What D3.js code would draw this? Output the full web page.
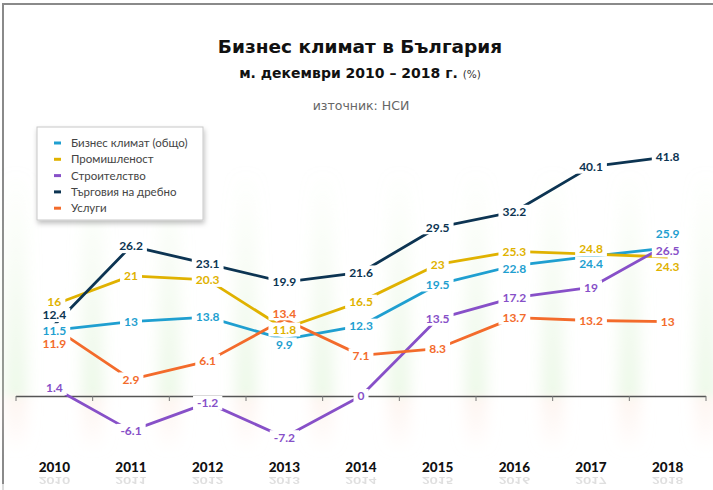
<!DOCTYPE html>
<html><head><meta charset="utf-8">
<script src="https://cdn.jsdelivr.net/npm/d3@7"></script>
<style>
html,body{margin:0;padding:0;background:#fff;}
svg{display:block;}
</style></head>
<body>
<svg id="chart" width="713" height="490"></svg>
<script>
// ---- data ----
const years = ["2010","2011","2012","2013","2014","2015","2016","2017","2018"];
const seriesNames = ["Бизнес климат (общо)","Промишленост","Строителство","Търговия на дребно","Услуги"];
const business     = [11.5, 13, 13.8, 9.9, 12.3, 19.5, 22.8, 24.4, 25.9];
const industry     = [16, 21, 20.3, 11.8, 16.5, 23, 25.3, 24.8, 24.3];
const construction = [1.4, -6.1, -1.2, -7.2, 0, 13.5, 17.2, 19, 26.5];
const retail       = [12.4, 26.2, 23.1, 19.9, 21.6, 29.5, 32.2, 40.1, 41.8];
const services     = [11.9, 2.9, 6.1, 13.4, 7.1, 8.3, 13.7, 13.2, 13];

// ---- style / layout ----
const colors = ["#1f9fd0","#e0b200","#8750c8","#0c3452","#f36b2b"];
const labelNudge = [
  {3:5, 6:3, 7:7, 8:-14},
  {0:-3, 3:1, 7:-5, 8:10},
  {8:6},
  {0:-10},
  {0:16, 3:-6}
];
const seriesData = [business, industry, construction, retail, services];
const drawOrder = [0,1,2,3,4];

const svg = d3.select("#chart");
const defs = svg.append("defs");

// border
svg.append("path").attr("d","M3,490 L3,4 L713,4").attr("fill","none").attr("stroke","#8a8a8a").attr("stroke-width",2);

const x = d3.scaleBand().domain(years).range([16,706]);
const cx = d => x(d) + x.bandwidth()/2;
const y = d3.scaleLinear().domain([-10,45]).range([453.2,138.6]);

// background stripes
const fb = defs.append("filter").attr("id","blur").attr("x","-100%").attr("width","300%").attr("y","-20%").attr("height","140%");
fb.append("feGaussianBlur").attr("stdDeviation","8 4");
const gUp = defs.append("linearGradient").attr("id","gUp").attr("x1",0).attr("y1",1).attr("x2",0).attr("y2",0);
gUp.append("stop").attr("offset","0%").attr("stop-color","#d6f0cc").attr("stop-opacity",0.5);
gUp.append("stop").attr("offset","100%").attr("stop-color","#d6f0cc").attr("stop-opacity",0);
const gDn = defs.append("linearGradient").attr("id","gDn").attr("x1",0).attr("y1",0).attr("x2",0).attr("y2",1);
gDn.append("stop").attr("offset","0%").attr("stop-color","#fbe6dc").attr("stop-opacity",0.5);
gDn.append("stop").attr("offset","100%").attr("stop-color","#fbe6dc").attr("stop-opacity",0);

const stripes = svg.append("g").attr("filter","url(#blur)");
const bounds = years.map(d => x(d)).concat([706]);
bounds.forEach(b => {
  stripes.append("rect").attr("x", b-10).attr("y", y(40)).attr("width",20).attr("height", y(0)-y(40)).attr("fill","url(#gUp)");
  stripes.append("rect").attr("x", b-10).attr("y", y(0)).attr("width",20).attr("height", 60).attr("fill","url(#gDn)");
});

// axis
const axisG = svg.append("g").attr("transform",`translate(0,${y(0)})`);
axisG.call(d3.axisBottom(x).tickValues([]).tickSizeOuter(0));
axisG.select(".domain").remove();
axisG.append("line").attr("x1",16).attr("x2",706).attr("y1",0.5).attr("y2",0.5).attr("stroke","#555").attr("stroke-width",1.3);
axisG.selectAll(".bnd").data(bounds).join("line").attr("class","bnd")
  .attr("x1",d=>d).attr("x2",d=>d).attr("y1",0).attr("y2",5).attr("stroke","#777").attr("stroke-width",1);

// year labels + reflection
const yl = svg.append("g");
years.forEach(yr => {
  yl.append("text").attr("x",cx(yr)).attr("y",472).attr("text-anchor","middle")
    .attr("font-family","Lato, 'Open Sans', sans-serif").attr("font-weight",900).attr("font-size",13.5)
    .attr("fill","#111").text(yr);
  yl.append("text").attr("transform",`translate(${cx(yr)},477) scale(1,-0.75)`).attr("text-anchor","middle")
    .attr("font-family","Lato, 'Open Sans', sans-serif").attr("font-weight",900).attr("font-size",13.5)
    .attr("fill","#999").attr("opacity",0.3).text(yr);
});
svg.append("rect").attr("x",0).attr("y",484).attr("width",713).attr("height",6).attr("fill","#fff").attr("opacity",0.7);

// lines
const line = d3.line().x((d,i)=>cx(years[i])).y(d=>y(d));
const linesG = svg.append("g");
drawOrder.forEach(s => {
  linesG.append("path").datum(seriesData[s]).attr("d",line).attr("fill","none")
    .attr("stroke",colors[s]).attr("stroke-width",2.8).attr("stroke-linejoin","round");
});

// data labels with white boxes
const labG = svg.append("g");
drawOrder.forEach(s => {
  seriesData[s].forEach((v,i) => {
    const px = cx(years[i]);
    const py = y(v) + (labelNudge[s][i] || 0);
    const g = labG.append("g");
    const t = g.append("text").attr("x",px).attr("y",py).attr("dy","0.36em").attr("text-anchor","middle")
      .attr("font-family","Lato, 'Open Sans', sans-serif").attr("font-weight",700).attr("font-size",12)
      .attr("fill",colors[s]).text(String(v));
    const bb = t.node().getBBox();
    g.insert("rect","text").attr("x",bb.x-4).attr("y",py-7).attr("width",bb.width+8).attr("height",14).attr("fill","#fff");
  });
});

// legend
const shadow = defs.append("filter").attr("id","shadow").attr("x","-10%").attr("y","-10%").attr("width","130%").attr("height","140%");
shadow.append("feDropShadow").attr("dx",1).attr("dy",3).attr("stdDeviation",2.5).attr("flood-color","#000").attr("flood-opacity",0.25);
const lg = svg.append("g").attr("transform","translate(37,127)");
lg.append("rect").attr("width",166).attr("height",93).attr("fill","#fff").attr("stroke","#c8c8c8").attr("filter","url(#shadow)");
seriesNames.forEach((n,i) => {
  const yy = 16 + i*16.3;
  lg.append("line").attr("x1",17).attr("x2",24).attr("y1",yy).attr("y2",yy).attr("stroke",colors[i]).attr("stroke-width",3);
  lg.append("text").attr("x",34).attr("y",yy).attr("dy","0.35em")
    .attr("font-family","Lato, 'Open Sans', sans-serif").attr("font-size",11.5).attr("fill","#444").text(n);
});

// titles
svg.append("text").attr("x",360).attr("y",53).attr("text-anchor","middle")
  .attr("font-family","'DejaVu Sans', sans-serif").attr("font-weight",700).attr("font-size",18.5)
  .attr("fill","#111").text("Бизнес климат в България");
const sub = svg.append("text").attr("x",360).attr("y",78).attr("text-anchor","middle")
  .attr("font-family","'DejaVu Sans', sans-serif").attr("fill","#111");
sub.append("tspan").attr("font-weight",700).attr("font-size",14).text("м. декември 2010 – 2018 г. ");
sub.append("tspan").attr("font-size",10.5).attr("fill","#333").text("(%)");
svg.append("text").attr("x",361).attr("y",110).attr("text-anchor","middle")
  .attr("font-family","'DejaVu Sans', sans-serif").attr("font-size",12.5).attr("fill","#666")
  .text("източник: НСИ");
</script>
</body></html>
